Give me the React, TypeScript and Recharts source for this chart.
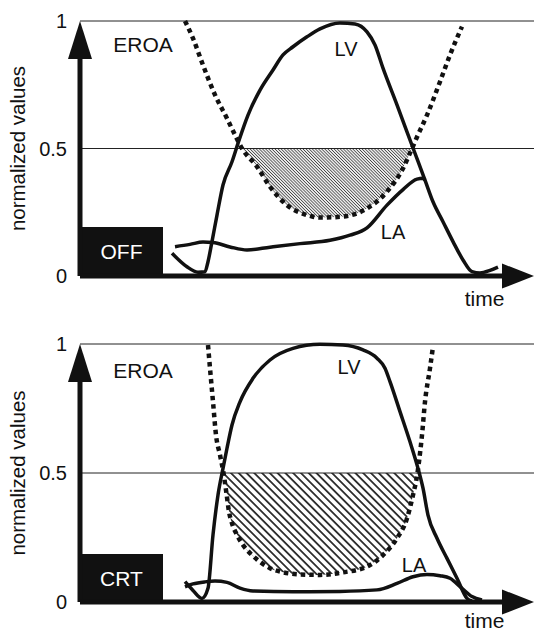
import React from 'react';
import {
  ComposedChart,
  Line,
  Area,
  XAxis,
  YAxis,
  ReferenceLine,
  ReferenceDot,
  ReferenceArea,
} from 'recharts';

type Pt = { t: number; v: number };
const pts = (rows: number[][]): Pt[] => rows.map(([t, v]) => ({ t, v }));

// Time axis runs in arbitrary units; values are normalized to [0, 1].
const TIME_MAX = 454;
const yTicks = [0, 0.5, 1];
const threshold = 0.5;

// ---- Pacing OFF ----
const offLV = pts([
  [92, 0.089], [107, 0.036], [118, 0.015], [125, 0.017], [128, 0.056], [132, 0.135],
  [137, 0.239], [143, 0.357], [152, 0.448], [158, 0.52], [168, 0.631], [180, 0.729],
  [193, 0.808], [203, 0.867], [213, 0.899], [227, 0.938], [240, 0.969], [260, 0.992],
  [275, 0.988], [287, 0.957], [295, 0.906], [303, 0.815], [317, 0.671], [333, 0.502],
  [345, 0.376], [353, 0.291], [363, 0.213], [373, 0.135], [383, 0.063], [392, 0.017],
  [400, 0.012], [410, 0.022], [418, 0.035],
]);
const offLA = pts([
  [95, 0.115], [110, 0.124], [123, 0.133], [133, 0.131], [150, 0.114], [167, 0.102],
  [190, 0.113], [220, 0.127], [250, 0.14], [270, 0.16], [287, 0.189], [307, 0.278],
  [323, 0.339], [337, 0.38], [343, 0.383], [345, 0.376],
]);
const offEROA = pts([
  [105, 1.0], [113, 0.932], [123, 0.827], [135, 0.71], [147, 0.618], [156, 0.545],
  [162, 0.5], [177, 0.429], [190, 0.35], [207, 0.278], [227, 0.239], [240, 0.229],
  [263, 0.233], [287, 0.265], [307, 0.331], [323, 0.422], [332, 0.5], [337, 0.545],
  [347, 0.631], [360, 0.762], [370, 0.867], [382, 0.978],
]);

// ---- CRT ----
const crtLV = pts([
  [105, 0.079], [113, 0.045], [122, 0.014], [128, 0.053], [133, 0.26], [138, 0.415],
  [143, 0.518], [147, 0.596], [152, 0.686], [160, 0.776], [173, 0.867], [190, 0.938],
  [213, 0.983], [240, 0.999], [263, 0.996], [283, 0.977], [297, 0.945], [305, 0.906],
  [310, 0.854], [320, 0.738], [330, 0.621], [338, 0.518], [343, 0.441], [348, 0.337],
  [357, 0.247], [367, 0.169], [377, 0.092], [387, 0.014], [392, 0.004],
]);
const crtLA = pts([
  [105, 0.059], [113, 0.07], [125, 0.078], [135, 0.081], [147, 0.076], [160, 0.054],
  [173, 0.043], [213, 0.04], [260, 0.041], [297, 0.047], [317, 0.072], [333, 0.098],
  [347, 0.107], [360, 0.102], [370, 0.092], [382, 0.053], [392, 0.021], [402, 0.008],
]);
const crtEROA = pts([
  [128, 0.996], [130, 0.906], [133, 0.776], [136, 0.647], [140, 0.57], [143.5, 0.5],
  [146.5, 0.42], [149, 0.35], [152, 0.305], [157, 0.26], [163, 0.221], [172, 0.182],
  [180, 0.156], [190, 0.131], [203, 0.115], [220, 0.107], [240, 0.105], [263, 0.115],
  [287, 0.137], [303, 0.182], [317, 0.247], [327, 0.324], [333, 0.415], [337.5, 0.5],
  [339, 0.544], [342, 0.647], [345, 0.776], [350, 0.906], [353, 0.99],
]);

const FONT = '"Liberation Sans", Arial, Helvetica, sans-serif';
const INK = '#111';

type Note = { text: string; t: number; v: number; size: number };

const offNotes: Note[] = [
  { text: 'EROA', t: 63, v: 0.908, size: 21 },
  { text: 'LV', t: 266, v: 0.892, size: 20 },
  { text: 'LA', t: 313, v: 0.173, size: 20 },
];
const crtNotes: Note[] = [
  { text: 'EROA', t: 63, v: 0.897, size: 21 },
  { text: 'LV', t: 269, v: 0.909, size: 20 },
  { text: 'LA', t: 334, v: 0.145, size: 20 },
];

const UpArrow = (p: any) => (
  <polygon
    points={`${p.cx},${p.cy} ${p.cx - 12},${p.cy + 38} ${p.cx + 12},${p.cy + 38}`}
    fill={INK}
  />
);
const RightArrow = (p: any) => (
  <polygon
    points={`${p.cx},${p.cy} ${p.cx - 32},${p.cy - 12.5} ${p.cx - 32},${p.cy + 12.5}`}
    fill={INK}
  />
);

const makeTimeLabel = (drop: number) => (props: any) => {
  const vb = props.viewBox || {};
  return (
    <text x={vb.x + vb.width - 49.5} y={vb.y + drop} textAnchor="middle" fontSize={21} fontFamily={FONT} fill={INK}>
      time
    </text>
  );
};

const ValueTitle = (props: any) => {
  const vb = props.viewBox || {};
  const cx = 25;
  const cy = vb.y + vb.height / 2;
  return (
    <text
      x={cx}
      y={cy}
      transform={`rotate(-90, ${cx}, ${cy})`}
      textAnchor="middle"
      fontSize={20.5}
      fontFamily={FONT}
      fill={INK}
    >
      normalized values
    </text>
  );
};

type PanelProps = {
  id: string;
  mode: string;
  boxTop: number;
  lv: Pt[];
  la: Pt[];
  eroa: Pt[];
  notes: Note[];
  marginTop: number;
  axisHeight: number;
  timeDrop: number;
  hatchGap: number;
  hatchWidth: number;
  hatchColor: string;
};

function Panel(p: PanelProps) {
  const band = p.eroa
    .filter((d) => d.v <= threshold)
    .map((d) => ({ t: d.t, band: [d.v, threshold] }));
  const g = p.hatchGap;
  return (
    <ComposedChart width={534} height={316} margin={{ top: p.marginTop, right: 0, bottom: 0, left: 0 }}>
      <defs>
        <pattern id={p.id} patternUnits="userSpaceOnUse" width={g} height={g} patternTransform="rotate(-45)">
          <line x1={g / 2} y1={-1} x2={g / 2} y2={g + 1} stroke={p.hatchColor} strokeWidth={p.hatchWidth} />
        </pattern>
      </defs>
      <XAxis
        type="number"
        dataKey="t"
        domain={[0, TIME_MAX]}
        allowDataOverflow
        height={p.axisHeight}
        axisLine={false}
        tickLine={false}
        tick={false}
        label={makeTimeLabel(p.timeDrop)}
      />
      <YAxis
        type="number"
        domain={[0, 1]}
        ticks={yTicks}
        width={80}
        axisLine={false}
        tickLine={false}
        tickSize={0}
        tickMargin={13}
        tick={{ fontSize: 20, fill: INK, fontFamily: FONT }}
        label={ValueTitle}
      />
      <Area
        data={band}
        dataKey="band"
        type="monotone"
        stroke="none"
        fill={`url(#${p.id})`}
        fillOpacity={1}
        isAnimationActive={false}
      />
      <ReferenceLine y={1} stroke="#222" strokeWidth={1} />
      <ReferenceLine y={threshold} stroke="#222" strokeWidth={1} />
      <Line
        data={p.eroa}
        dataKey="v"
        type="monotone"
        stroke={INK}
        strokeWidth={4.5}
        strokeDasharray="4.5 4"
        dot={false}
        isAnimationActive={false}
      />
      <Line data={p.lv} dataKey="v" type="monotone" stroke={INK} strokeWidth={3.5} dot={false} isAnimationActive={false} />
      <Line data={p.la} dataKey="v" type="monotone" stroke={INK} strokeWidth={3.5} dot={false} isAnimationActive={false} />
      <ReferenceArea
        x1={0}
        x2={83}
        y1={0}
        y2={p.boxTop}
        fill={INK}
        fillOpacity={1}
        stroke="none"
        ifOverflow="visible"
        label={(lp: any) => {
          const vb = lp.viewBox || {};
          return (
            <text
              x={vb.x + vb.width / 2}
              y={vb.y + vb.height / 2}
              textAnchor="middle"
              dominantBaseline="central"
              fontSize={21}
              fontFamily={FONT}
              fill="#fff"
            >
              {p.mode}
            </text>
          );
        }}
      />
      <ReferenceLine segment={[{ x: 0, y: 0 }, { x: 0, y: 0.88 }]} stroke={INK} strokeWidth={5} ifOverflow="visible" />
      <ReferenceLine segment={[{ x: 0, y: 0 }, { x: 430, y: 0 }]} stroke={INK} strokeWidth={5} ifOverflow="visible" />
      <ReferenceDot x={0} y={1} r={0} shape={UpArrow} ifOverflow="visible" />
      <ReferenceDot x={TIME_MAX} y={0} r={0} shape={RightArrow} ifOverflow="visible" />
      {p.notes.map((n) => (
        <ReferenceDot
          key={n.text}
          x={n.t}
          y={n.v}
          r={0}
          ifOverflow="visible"
          shape={(sp: any) => (
            <text
              x={sp.cx}
              y={sp.cy}
              textAnchor="middle"
              dominantBaseline="central"
              fontSize={n.size}
              fontFamily={FONT}
              fill={INK}
            >
              {n.text}
            </text>
          )}
        />
      ))}
    </ComposedChart>
  );
}

export default function App() {
  return (
    <div style={{ position: 'absolute', left: 0, top: 0, width: 534, height: 632, background: '#fff' }}>
      <div style={{ position: 'absolute', left: 0, top: 0 }}>
        <Panel
          id="hatch-off"
          mode="OFF"
          boxTop={0.192}
          lv={offLV}
          la={offLA}
          eroa={offEROA}
          notes={offNotes}
          marginTop={21}
          axisHeight={40}
          timeDrop={29.5}
          hatchGap={2.2}
          hatchWidth={0.9}
          hatchColor="#444"
        />
      </div>
      <div style={{ position: 'absolute', left: 0, top: 316 }}>
        <Panel
          id="hatch-crt"
          mode="CRT"
          boxTop={0.186}
          lv={crtLV}
          la={crtLA}
          eroa={crtEROA}
          notes={crtNotes}
          marginTop={28}
          axisHeight={30}
          timeDrop={26}
          hatchGap={5.5}
          hatchWidth={1.6}
          hatchColor={INK}
        />
      </div>
    </div>
  );
}
